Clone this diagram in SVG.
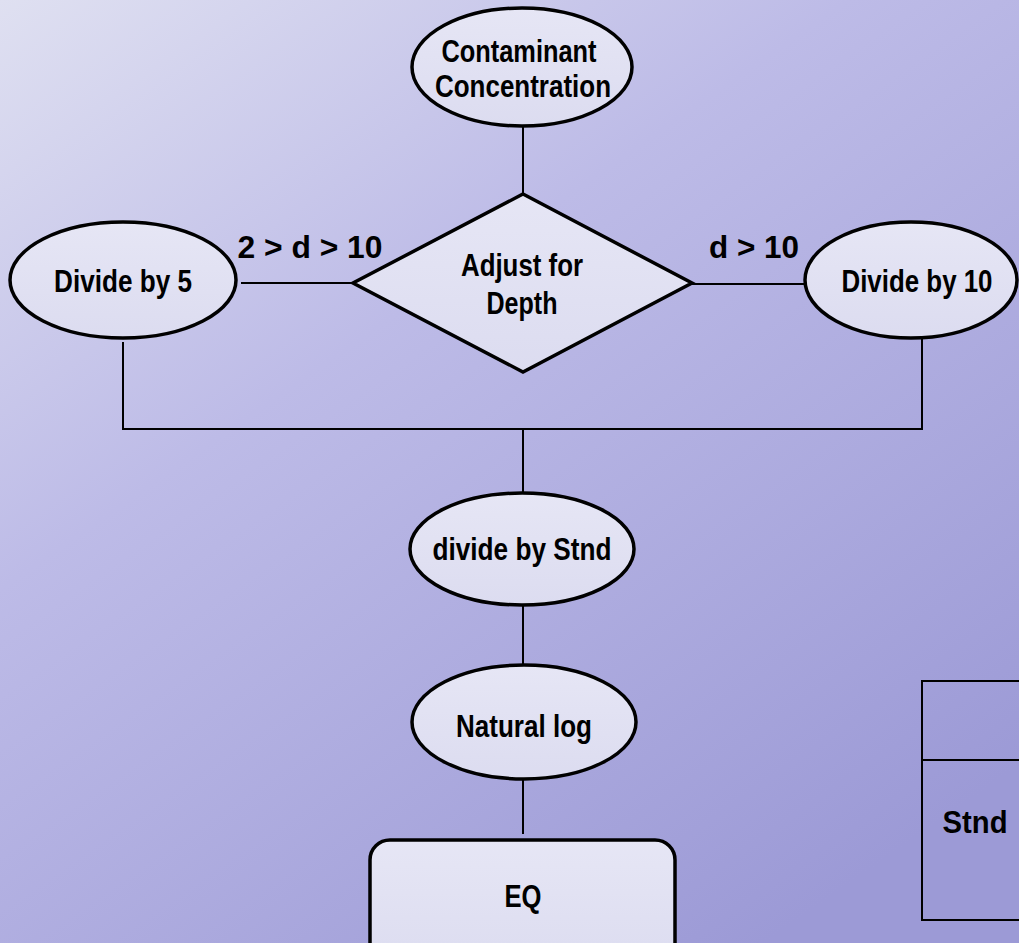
<svg xmlns="http://www.w3.org/2000/svg" width="1019" height="943" viewBox="0 0 1019 943">
<style>
.shape{fill:#e1e1f3;stroke:#000;stroke-width:3.5}
.line{stroke:#000;stroke-width:2;fill:none}
.t{font-family:"Liberation Sans",Arial,sans-serif;font-weight:bold;font-size:32px;fill:#000;text-anchor:middle}
</style>
<defs>
<linearGradient id="bg" x1="0" y1="0" x2="0.75" y2="1">
<stop offset="0" stop-color="#dfe0f1"/>
<stop offset="0.4" stop-color="#bdbbe7"/>
<stop offset="1" stop-color="#9c9ad6"/>
</linearGradient>
<linearGradient id="fillg" x1="0" y1="0" x2="0" y2="1">
<stop offset="0" stop-color="#e6e6f5"/>
<stop offset="1" stop-color="#dcdcf0"/>
</linearGradient>
</defs>
<rect width="1019" height="943" fill="url(#bg)"/>
<g id="connectors">
<line class="line" x1="523" y1="127" x2="523" y2="194"/>
<line class="line" x1="241" y1="283" x2="353" y2="283"/>
<line class="line" x1="692" y1="284" x2="805" y2="284"/>
<line class="line" x1="123" y1="342" x2="123" y2="429"/>
<line class="line" x1="922" y1="339" x2="922" y2="429"/>
<line class="line" x1="122" y1="429" x2="923" y2="429"/>
<line class="line" x1="523" y1="429" x2="523" y2="494"/>
<line class="line" x1="523" y1="605" x2="523" y2="666"/>
<line class="line" x1="523" y1="780" x2="523" y2="834"/>
<text class="t" x="310" y="258" textLength="145" lengthAdjust="spacingAndGlyphs">2 &gt; d &gt; 10</text>
<text class="t" x="754" y="258" textLength="90" lengthAdjust="spacingAndGlyphs">d &gt; 10</text>
</g>
<g id="contaminant">
<ellipse class="shape" cx="522" cy="67" rx="110" ry="59" style="fill:url(#fillg)"/>
<text class="t" x="519" y="62" textLength="155" lengthAdjust="spacingAndGlyphs">Contaminant</text>
<text class="t" x="523" y="97" textLength="176" lengthAdjust="spacingAndGlyphs">Concentration</text>
</g>
<g id="adjust">
<polygon class="shape" points="523,194 692,283 523,372 353,283" style="fill:url(#fillg)"/>
<text class="t" x="522" y="276" textLength="122" lengthAdjust="spacingAndGlyphs">Adjust for</text>
<text class="t" x="522" y="314" textLength="71" lengthAdjust="spacingAndGlyphs">Depth</text>
</g>
<g id="divide5">
<ellipse class="shape" cx="123" cy="280" rx="113" ry="58" style="fill:url(#fillg)"/>
<text class="t" x="123" y="292" textLength="138" lengthAdjust="spacingAndGlyphs">Divide by 5</text>
</g>
<g id="divide10">
<ellipse class="shape" cx="911" cy="280" rx="106" ry="58" style="fill:url(#fillg)"/>
<text class="t" x="917" y="292" textLength="151" lengthAdjust="spacingAndGlyphs">Divide by 10</text>
</g>
<g id="divideStnd">
<ellipse class="shape" cx="522" cy="549" rx="112" ry="56" style="fill:url(#fillg)"/>
<text class="t" x="522" y="560" textLength="179" lengthAdjust="spacingAndGlyphs">divide by Stnd</text>
</g>
<g id="naturalLog">
<ellipse class="shape" cx="524" cy="722" rx="112" ry="57" style="fill:url(#fillg)"/>
<text class="t" x="524" y="737" textLength="136" lengthAdjust="spacingAndGlyphs">Natural log</text>
</g>
<g id="eq">
<rect class="shape" x="370" y="840" width="305" height="130" rx="20" ry="20" style="fill:url(#fillg)"/>
<text class="t" x="523" y="907" textLength="37" lengthAdjust="spacingAndGlyphs">EQ</text>
</g>
<g id="table">
<rect x="922" y="681" width="200" height="239" fill="none" stroke="#000" stroke-width="2"/>
<line class="line" x1="922" y1="760" x2="1019" y2="760"/>
<text class="t" x="975" y="833" textLength="65" lengthAdjust="spacingAndGlyphs">Stnd</text>
</g>
</svg>
